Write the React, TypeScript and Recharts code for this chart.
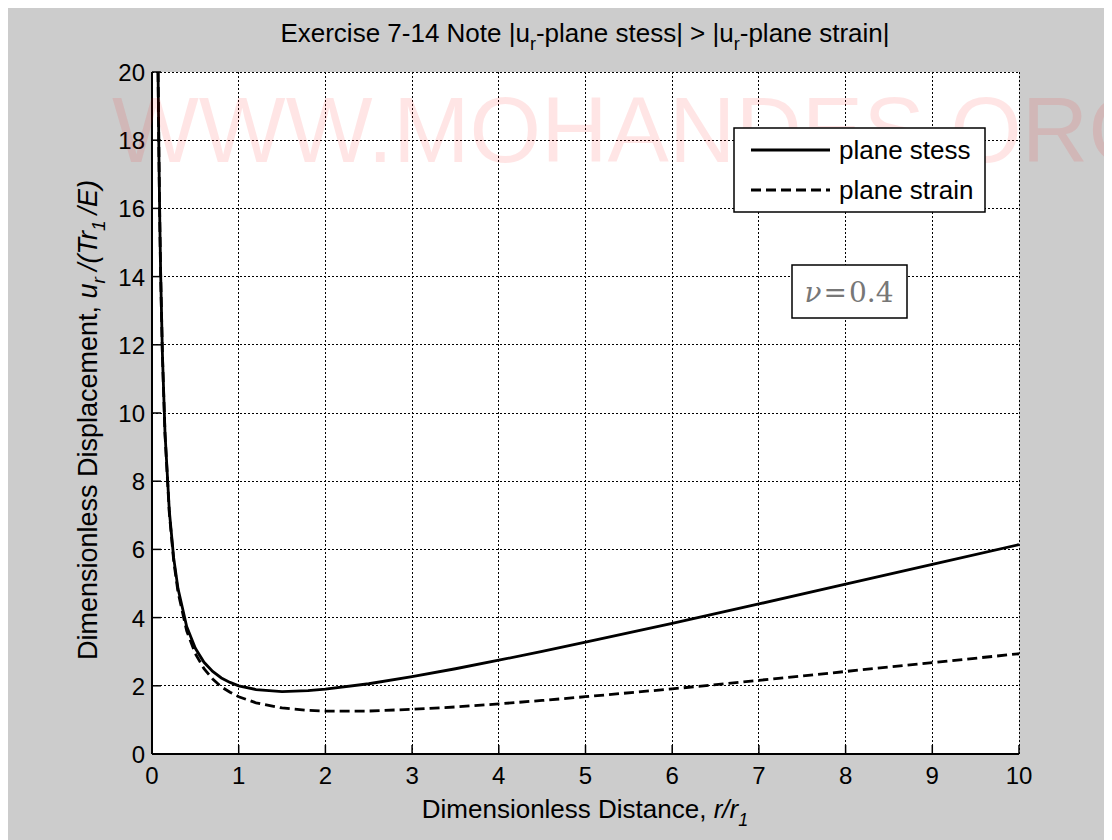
import React from 'react';
import { LineChart, Line, XAxis, YAxis, CartesianGrid } from 'recharts';

// r/r1 sample positions
const rValues = [0.07, 0.08, 0.09, 0.1, 0.12, 0.15, 0.2, 0.25, 0.3, 0.4, 0.5, 0.6, 0.7, 0.8, 0.9, 1.0, 1.2, 1.5, 1.8, 2.0, 2.5, 3.0, 3.5, 4.0, 4.5, 5.0, 6.0, 7.0, 8.0, 9.0, 10.0];
// plane stress u_r/(T r1/E)
const planeStress = [20.0, 17.55, 15.61, 14.06, 11.74, 9.42, 7.12, 5.75, 4.85, 3.74, 3.1, 2.69, 2.42, 2.23, 2.1, 2.0, 1.89, 1.83, 1.86, 1.9, 2.06, 2.27, 2.5, 2.75, 3.01, 3.28, 3.83, 4.4, 4.98, 5.56, 6.14];
// plane strain u_r/(T r1/E)
const planeStrain = [20.0, 17.52, 15.58, 14.03, 11.7, 9.37, 7.06, 5.67, 4.75, 3.61, 2.94, 2.5, 2.2, 1.97, 1.81, 1.68, 1.5, 1.35, 1.28, 1.26, 1.26, 1.31, 1.38, 1.47, 1.57, 1.68, 1.91, 2.16, 2.42, 2.68, 2.94];

const xTicks = [0, 1, 2, 3, 4, 5, 6, 7, 8, 9, 10];
const yTicks = [0, 2, 4, 6, 8, 10, 12, 14, 16, 18, 20];

const seriesNames = ['plane stess', 'plane strain'];
const titleParts = ['Exercise 7-14 Note |u', 'r', '-plane stess| > |u', 'r', '-plane strain|'];
const xLabelText = 'Dimensionless Distance, ';
const yLabelText = 'Dimensionless Displacement, ';
const nuLabel = '0.4';
const watermark = 'WWW.MOHANDES.ORG';

const data = rValues.map((r, i) => ({ r, stress: planeStress[i], strain: planeStrain[i] }));

const FONT = '"Liberation Sans", Arial, Helvetica, sans-serif';
const FS = 26;
const TFS = 24;
const TICK_LEN = 9;

const BottomTick = (props: any) => {
  const { x, y, payload } = props;
  return (
    <g>
      <line x1={x} x2={x} y1={y} y2={y - TICK_LEN} stroke="#000" strokeWidth={1.5} />
      <text x={x} y={y + 30} textAnchor="middle" fontFamily={FONT} fontSize={TFS} fill="#000">
        {payload.value}
      </text>
    </g>
  );
};
const TopTick = (props: any) => {
  const { x, y } = props;
  return <line x1={x} x2={x} y1={y} y2={y + TICK_LEN} stroke="#000" strokeWidth={1.5} />;
};
const LeftTick = (props: any) => {
  const { x, y, payload } = props;
  return (
    <g>
      <line x1={x} x2={x + TICK_LEN} y1={y} y2={y} stroke="#000" strokeWidth={1.5} />
      <text x={x - 7} y={y + 9} textAnchor="end" fontFamily={FONT} fontSize={TFS} fill="#000">
        {payload.value}
      </text>
    </g>
  );
};
const RightTick = (props: any) => {
  const { x, y } = props;
  return <line x1={x} x2={x - TICK_LEN} y1={y} y2={y} stroke="#000" strokeWidth={1.5} />;
};

export default function App() {
  return (
    <div style={{ position: 'relative', width: 1106, height: 832, background: '#cccccc', marginLeft: -2 }}>
      <LineChart width={1106} height={832} data={data} margin={{ top: 64, right: 93, bottom: 0, left: 0 }}>
        <CartesianGrid
          stroke="#000"
          strokeDasharray="2 2"
          strokeWidth={1}
          fill="#ffffff"
          fillOpacity={1}
          shapeRendering="crispEdges"
          horizontalValues={yTicks}
          verticalValues={xTicks}
        />
        <XAxis
          xAxisId={0}
          type="number"
          dataKey="r"
          domain={[0, 10]}
          ticks={xTicks}
          allowDataOverflow
          height={86}
          tickSize={0}
          tickMargin={0}
          tickLine={false}
          axisLine={{ stroke: '#000', strokeWidth: 2 }}
          tick={<BottomTick />}
          interval={0}
        />
        <XAxis
          xAxisId="top"
          orientation="top"
          type="number"
          dataKey="r"
          domain={[0, 10]}
          ticks={xTicks}
          allowDataOverflow
          height={0}
          tickSize={0}
          tickMargin={0}
          tickLine={false}
          axisLine={{ stroke: '#000', strokeWidth: 2 }}
          tick={<TopTick />}
          interval={0}
        />
        <YAxis
          yAxisId={0}
          type="number"
          domain={[0, 20]}
          ticks={yTicks}
          allowDataOverflow
          width={146}
          tickSize={0}
          tickMargin={0}
          tickLine={false}
          axisLine={{ stroke: '#000', strokeWidth: 2 }}
          tick={<LeftTick />}
          interval={0}
        />
        <YAxis
          yAxisId="right"
          orientation="right"
          type="number"
          domain={[0, 20]}
          ticks={yTicks}
          allowDataOverflow
          width={0}
          tickSize={0}
          tickMargin={0}
          tickLine={false}
          axisLine={{ stroke: '#000', strokeWidth: 2 }}
          tick={<RightTick />}
          interval={0}
        />
        <Line
          xAxisId={0}
          yAxisId={0}
          type="linear"
          dataKey="stress"
          name={seriesNames[0]}
          stroke="#000"
          strokeWidth={2.8}
          dot={false}
          activeDot={false}
          isAnimationActive={false}
        />
        <Line
          xAxisId={0}
          yAxisId={0}
          type="linear"
          dataKey="strain"
          name={seriesNames[1]}
          stroke="#000"
          strokeWidth={2.8}
          strokeDasharray="10 5"
          dot={false}
          activeDot={false}
          isAnimationActive={false}
        />
      </LineChart>
      <svg
        width={1106}
        height={832}
        style={{ position: 'absolute', left: 0, top: 0, pointerEvents: 'none' }}
      >
        {/* watermark (behind legend box) */}
        <text x={106} y={154} fontFamily={FONT} fontSize={92} fill="#ff0000" fillOpacity={0.1}>
          {watermark}
        </text>
        {/* title */}
        <text x={579} y={34} textAnchor="middle" fontFamily={FONT} fontSize={FS} fill="#000">
          <tspan>{titleParts[0]}</tspan>
          <tspan dy={8} fontSize={18}>{titleParts[1]}</tspan>
          <tspan dy={-8}>{titleParts[2]}</tspan>
          <tspan dy={8} fontSize={18}>{titleParts[3]}</tspan>
          <tspan dy={-8}>{titleParts[4]}</tspan>
        </text>
        {/* x label */}
        <text x={579} y={810} textAnchor="middle" fontFamily={FONT} fontSize={FS} fill="#000">
          <tspan>{xLabelText}</tspan>
          <tspan fontStyle="italic">r/r</tspan>
          <tspan fontStyle="italic" dy={8} fontSize={18}>1</tspan>
        </text>
        {/* y label */}
        <text
          x={91}
          y={412}
          transform="rotate(-90 91 412)"
          textAnchor="middle"
          fontFamily={FONT}
          fontSize={27}
          fill="#000"
        >
          <tspan>{yLabelText}</tspan>
          <tspan fontStyle="italic">u</tspan>
          <tspan fontStyle="italic" dy={8} fontSize={19}>r</tspan>
          <tspan fontStyle="italic" dy={-8} dx={6}>/(Tr</tspan>
          <tspan fontStyle="italic" dy={8} fontSize={19}>1</tspan>
          <tspan fontStyle="italic" dy={-8} dx={6}>/E)</tspan>
        </text>
        {/* legend */}
        <rect x={728} y={120} width={251} height={84} fill="#fff" stroke="#000" strokeWidth={1.5} />
        <line x1={745} x2={824} y1={142} y2={142} stroke="#000" strokeWidth={2.8} />
        <line x1={745} x2={824} y1={182} y2={182} stroke="#000" strokeWidth={2.8} strokeDasharray="10 5" />
        <text x={833} y={151} fontFamily={FONT} fontSize={FS} fill="#000">{seriesNames[0]}</text>
        <text x={833} y={191} fontFamily={FONT} fontSize={FS} fill="#000">{seriesNames[1]}</text>
        {/* nu annotation */}
        <rect x={786} y={257} width={115} height={53} fill="#fff" stroke="#000" strokeWidth={1.5} />
        <text x={843} y={294} textAnchor="middle" fontFamily='"DejaVu Serif", "Liberation Serif", serif' fontSize={28} fill="#777">
          <tspan fontStyle="italic">ν</tspan>
          <tspan dx={2}>=</tspan>
          <tspan dx={2}>{nuLabel}</tspan>
        </text>
      </svg>
    </div>
  );
}
